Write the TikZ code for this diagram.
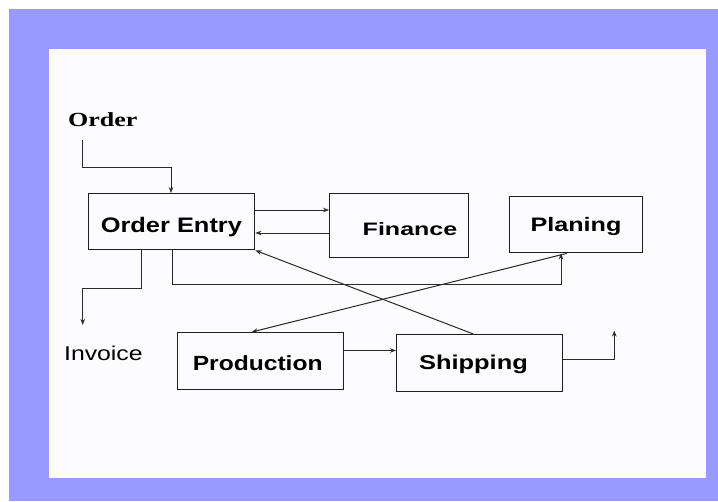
\documentclass[tikz,border=0pt]{standalone}
\usepackage{fontspec}
\setmainfont{Liberation Sans}
\newfontfamily\serifbold{Liberation Serif}
\usetikzlibrary{arrows.meta,calc}
\definecolor{frameblue}{HTML}{9999FF}
\definecolor{inkgray}{HTML}{1E1E1E}
\definecolor{linegray}{HTML}{2A2A2A}
\newcommand\stretchtxt[3]{{\fontsize{#1}{#1}\selectfont\scalebox{#2}[1]{#3}}}
\begin{document}
\begin{tikzpicture}[x=1pt,y=-1pt,
  box/.style={draw=inkgray, line width=1.4pt, inner sep=0pt, anchor=north west, rectangle},
  lbl/.style={inner sep=0pt, anchor=base, text=black},
  arr/.style={draw=linegray, line width=1pt, -{Stealth[length=6pt,width=4.5pt]}},
  plain/.style={draw=linegray, line width=1pt}]
\useasboundingbox (0,0) rectangle (718,501);
\fill[white] (0,0) rectangle (718,501);
\fill[frameblue] (9,9) rectangle (718,501);
\fill[white!99!blue] (49,49) rectangle (706,478);

% boxes
\node[box, minimum width=166pt, minimum height=56pt] (oe) at (88,193) {};
\node[box, minimum width=139pt, minimum height=64pt] (fin) at (329,193) {};
\node[box, minimum width=133pt, minimum height=56pt] (plan) at (509,196) {};
\node[box, minimum width=166pt, minimum height=57pt] (prod) at (177,332) {};
\node[box, minimum width=166pt, minimum height=57pt] (ship) at (396,334) {};

% labels
\node[lbl] (toe) at (171.4,232) {\bfseries\stretchtxt{21}{1.21}{Order Entry}};
\node[lbl] (tfin) at (410,235) {\bfseries\stretchtxt{18}{1.39}{Finance}};
\node[lbl] (tplan) at (576,231.5) {\bfseries\stretchtxt{19.5}{1.29}{Planing}};
\node[lbl] (tprod) at (257.7,370.5) {\bfseries\stretchtxt{20.5}{1.2}{Production}};
\node[lbl] (tship) at (473.5,369) {\bfseries\stretchtxt{20}{1.27}{Shipping}};
\node[lbl] (tinv) at (103.4,360) {\stretchtxt{20}{1.24}{Invoice}};
\node[lbl] (tord) at (102.7,126) {\serifbold\bfseries\stretchtxt{20}{1.3}{Order}};

% free ends
\coordinate (ordstart) at (82,140);
\coordinate (invtip) at (82.7,325);
\coordinate (shiptip) at (614.3,330.5);
\coordinate (rowA) at (0,284.5);

% connectors
\draw[arr] (ordstart) |- ([xshift=83pt,yshift=26pt]oe.north west) -- ([xshift=83pt]oe.north west);
\draw[arr] ([yshift=-17pt]oe.north east) -- ([yshift=-17pt]fin.north west);
\draw[arr] ([yshift=-40pt]fin.north west) -- ([yshift=-40pt]oe.north east);
\draw[arr] ([xshift=84.7pt]oe.south west) -- ([xshift=84.7pt]oe.south west |- rowA) -| ([xshift=52pt]plan.south west);
\draw[arr] ([xshift=53.7pt]oe.south west) -- ++(0,38.3) -| (invtip);
\draw[arr] ([xshift=57.7pt]plan.south west) -- ([xshift=74.7pt]prod.north west);
\draw[arr] ([xshift=77.3pt]ship.north west) -- (oe.south east);
\draw[arr] ([yshift=-18.5pt]prod.north east) -- ([yshift=-16.5pt]ship.north west);
\draw[arr] ([yshift=-25.3pt]ship.north east) -| (shiptip);
\end{tikzpicture}
\end{document}
